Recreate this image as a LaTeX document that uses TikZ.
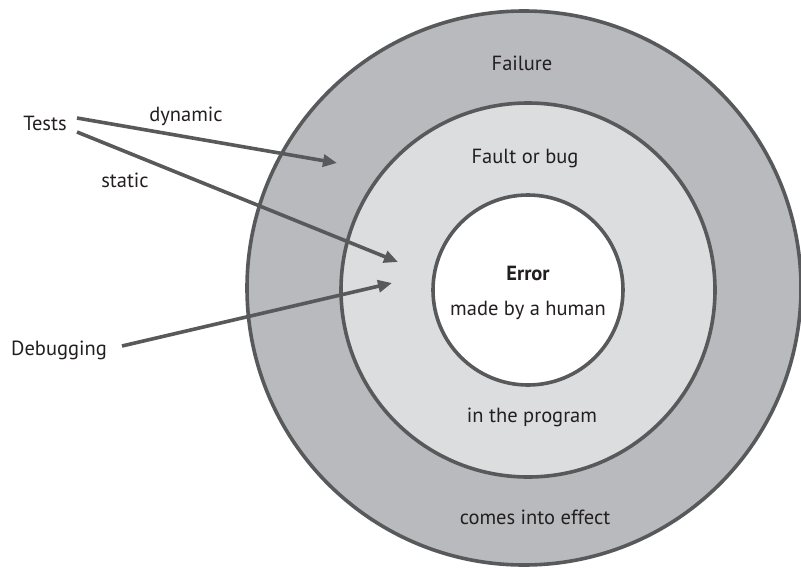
\documentclass[tikz,border=0pt]{standalone}
\usepackage{fontspec}
\setmainfont{PT Sans}
\usetikzlibrary{arrows.meta}
\definecolor{linegray}{HTML}{58595B}
\definecolor{outerfill}{HTML}{B9BABD}
\definecolor{midfill}{HTML}{DCDDDF}
\definecolor{txt}{HTML}{231F20}
\tikzset{
  ring/.style={circle, draw=linegray, line width=3.6pt, inner sep=0pt},
  lbl/.style={text=txt, font=\fontsize{20.5}{24}\selectfont, inner sep=0pt},
  arr/.style={draw=linegray, line width=3.6pt, -{Triangle[length=14pt,width=12pt]}}
}
\begin{document}
\begin{tikzpicture}[x=1pt,y=-1pt]
\useasboundingbox (0,0) rectangle (801,571);
\node[ring, fill=outerfill, minimum size=554pt] (outer) at (524,288) {};
\node[ring, fill=midfill, minimum size=374pt] (mid) at (528,290) {};
\node[ring, fill=white, minimum size=190pt] (inner) at (528,290) {};

\node[lbl] (failure) at (522,63) {Failure};
\node[lbl] (fault) at (525,158) {Fault or bug};
\node[lbl, font=\fontsize{20.5}{24}\selectfont\bfseries] (error) at (528,273) {Error};
\node[lbl] (human) at (528,310) {made by a human};
\node[lbl] (program) at (532,417) {in the program};
\node[lbl] (effect) at (535,517) {comes into effect};

\node[lbl] (tests) at (45,123) {Tests};
\node[lbl] (dynamic) at (186,116) {dynamic};
\node[lbl] (static) at (125,180) {static};
\node[lbl] (debugging) at (59,350) {Debugging};

\coordinate (t1) at (77,118);
\coordinate (t2) at (77,132);
\coordinate (d1) at (122,346);
\coordinate (dynTip) at (337,163);
\coordinate (staTip) at (398,262);
\coordinate (dbgTip) at (392,283);

\draw[arr] (t1) -- (dynTip);
\draw[arr] (t2) -- (staTip);
\draw[arr] (d1) -- (dbgTip);
\end{tikzpicture}
\end{document}
